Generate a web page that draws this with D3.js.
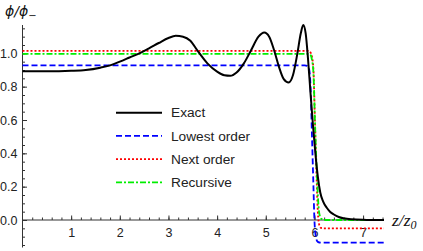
<!DOCTYPE html>
<html><head><meta charset="utf-8">
<script src="https://cdn.jsdelivr.net/npm/d3@7"></script>
<style>body{margin:0;background:#fff}svg{display:block}</style>
</head><body>
<svg id="c" width="423" height="251"></svg>
<script>
// ---- data ----
const exactX = [0,0.5,1.0,1.3,1.6,1.8,2.0,2.2,2.4,2.6,2.8,3.0,3.15,3.3,3.45,3.6,3.8,4.0,4.15,4.27,4.4,4.55,4.7,4.85,4.97,5.07,5.17,5.27,5.37,5.47,5.56,5.65,5.72,5.77,5.82,5.87,5.92,5.97,6.02,6.07,6.12,6.18,6.25,6.32,6.4,6.5,6.6,6.75,7.0,7.43];
const exactY = [0.893,0.892,0.895,0.9,0.914,0.928,0.95,0.975,1.0,1.03,1.062,1.092,1.105,1.1,1.075,1.015,0.94,0.89,0.868,0.865,0.885,0.94,1.02,1.1,1.125,1.1,1.02,0.92,0.845,0.825,0.87,1.0,1.12,1.17,1.12,0.96,0.76,0.57,0.4,0.26,0.165,0.11,0.075,0.05,0.033,0.018,0.01,0.004,0.001,0];
const lowX = [0,5.8,5.85,5.88,5.9,5.92,5.95,5.98,6.0,6.03,6.06,6.1,6.15,7.43];
const lowY = [0.928,0.928,0.925,0.915,0.89,0.8,0.5,0.2,0.0,-0.1,-0.128,-0.135,-0.136,-0.136];
const nextX = [0,5.87,5.92,5.95,5.98,6.01,6.04,6.07,6.1,6.14,6.2,7.43];
const nextY = [1.015,1.015,1.005,0.98,0.9,0.6,0.3,0.05,-0.03,-0.048,-0.05,-0.05];
const recX = [0,5.87,5.92,5.95,5.98,6.01,6.04,6.07,6.1,6.14,6.22,7.43];
const recY = [0.997,0.997,0.99,0.96,0.88,0.6,0.35,0.15,0.04,0.008,0,0];
const seriesNames = ["Exact","Lowest order","Next order","Recursive"];
const xTickLabels = [1,2,3,4,5,6,7];
const yTickLabels = [0,0.2,0.4,0.6,0.8,1.0];

// ---- chart ----
const svg = d3.select("#c");
const x = d3.scaleLinear().domain([0,7.43]).range([22.5,384]);
const y = d3.scaleLinear().domain([-0.165,1.17]).range([247.5,25]);
const axisCol = "#333";

// x axis
const xMinor = d3.range(0.2,7.41,0.2).map(v=>+v.toFixed(2));
const gx = svg.append("g").attr("transform",`translate(0,${y(0)})`);
gx.append("g").call(d3.axisTop(x).tickValues(xMinor).tickSize(2.5).tickFormat(""))
  .call(g=>{g.select(".domain").remove();g.selectAll("line").attr("stroke",axisCol);});
gx.append("g").call(d3.axisTop(x).tickValues(xTickLabels).tickSize(4.5).tickFormat(""))
  .call(g=>{g.select(".domain").attr("stroke",axisCol).attr("d",`M${x.range()[0]},0H${x.range()[1]}`);g.selectAll("line").attr("stroke",axisCol);});
gx.append("g").call(d3.axisBottom(x).tickValues(xTickLabels).tickSize(0).tickPadding(8).tickFormat(d3.format("d")))
  .call(g=>{g.select(".domain").remove();g.selectAll("text").attr("font-family","Liberation Sans, Arial, sans-serif").attr("font-size",12.5).attr("fill","#222");});

// y axis
const yMinor = d3.range(-0.15,1.16,0.05).map(v=>+v.toFixed(2));
const gy = svg.append("g").attr("transform",`translate(${x(0)},0)`);
gy.append("g").call(d3.axisRight(y).tickValues(yMinor).tickSize(2.5).tickFormat(""))
  .call(g=>{g.select(".domain").remove();g.selectAll("line").attr("stroke",axisCol);});
gy.append("g").call(d3.axisRight(y).tickValues(yTickLabels).tickSize(4.5).tickFormat(""))
  .call(g=>{g.select(".domain").attr("stroke",axisCol).attr("d",`M0,${y.range()[0]}V${y.range()[1]}`);g.selectAll("line").attr("stroke",axisCol);});
gy.append("g").call(d3.axisLeft(y).tickValues(yTickLabels).tickSize(0).tickPadding(5).tickFormat(d3.format(".1f")))
  .call(g=>{g.select(".domain").remove();g.selectAll("text").attr("font-family","Liberation Sans, Arial, sans-serif").attr("font-size",12.5).attr("fill","#222");});

// axis labels
const yl = svg.append("text").attr("x",5).attr("y",16)
  .attr("font-family","DejaVu Sans, sans-serif").attr("font-style","italic").attr("font-size",14).attr("fill","#111");
yl.append("tspan").text("ϕ/ϕ");
yl.append("tspan").attr("dy",3).attr("font-size",10).attr("font-style","normal").text("−");
const xl = svg.append("text").attr("x",392).attr("y",226)
  .attr("font-family","Liberation Serif, Times New Roman, serif").attr("font-style","italic").attr("font-size",17.5).attr("fill","#111");
xl.append("tspan").text("z/z");
xl.append("tspan").attr("dy",3).attr("font-size",12).text("0");

// lines
const mk = (xs,ys)=>xs.map((v,i)=>[v,ys[i]]);
const lineC = d3.line().x(d=>x(d[0])).y(d=>y(d[1])).curve(d3.curveMonotoneX);
const series = [
  {name:seriesNames[1], data:mk(lowX,lowY), color:"#0000ff", dash:"6,3", w:1.8},
  {name:seriesNames[2], data:mk(nextX,nextY), color:"#ff0000", dash:"2,2", w:1.8},
  {name:seriesNames[3], data:mk(recX,recY), color:"#00ee00", dash:"6,2,2,2", w:1.8},
  {name:seriesNames[0], data:mk(exactX,exactY), color:"#000", dash:null, w:2}
];
series.forEach(s=>{
  svg.append("path").attr("d",lineC(s.data)).attr("fill","none").attr("stroke",s.color)
    .attr("stroke-width",s.w).attr("stroke-dasharray",s.dash);
});

// legend
const legOrder = [series[3],series[0],series[1],series[2]];
legOrder.forEach((s,i)=>{
  const yy = 112.7 + i*23.2;
  svg.append("line").attr("x1",116).attr("x2",162).attr("y1",yy).attr("y2",yy)
    .attr("stroke",s.color).attr("stroke-width",s.w).attr("stroke-dasharray",s.dash);
  svg.append("text").attr("x",171).attr("y",yy).attr("dy","0.35em").text(s.name)
    .attr("font-family","Liberation Sans, Arial, sans-serif").attr("font-size",13.7).attr("fill","#222");
});
</script>
</body></html>
